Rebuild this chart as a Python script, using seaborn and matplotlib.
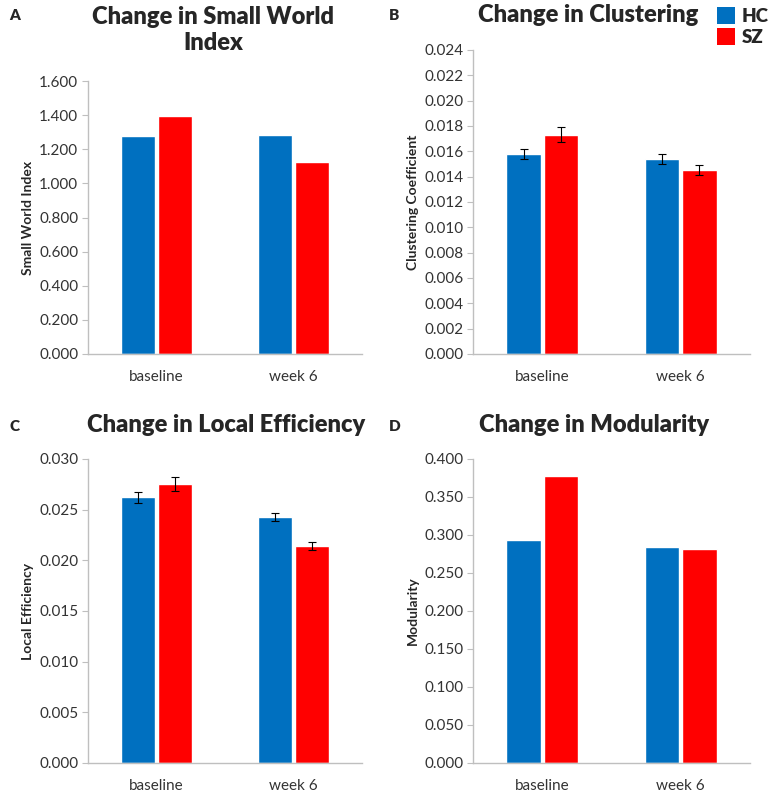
import numpy as np
import pandas as pd
import matplotlib.pyplot as plt
import seaborn as sns
from matplotlib.patches import Patch
from matplotlib.ticker import FormatStrFormatter

sns.set_style('white')
plt.rcParams['font.family'] = ['Lato', 'DejaVu Sans']

timepoints = ['baseline', 'week 6']
groups = ['HC', 'SZ']
colors = {'HC': '#0070C0', 'SZ': '#FF0000'}

# values: (baseline, week 6)
swi_hc = [1.275, 1.285]
swi_sz = [1.395, 1.125]

clust_hc = [0.0158, 0.0154]
clust_sz = [0.0173, 0.0145]
clust_hc_err = [0.0004, 0.0004]
clust_sz_err = [0.0006, 0.0004]

leff_hc = [0.0262, 0.0243]
leff_sz = [0.0275, 0.0214]
leff_hc_err = [0.0005, 0.0004]
leff_sz_err = [0.0007, 0.0004]

mod_hc = [0.294, 0.284]
mod_sz = [0.378, 0.282]


def panel(ax, hc, sz, ylabel, ymax, step, fmt, hc_err=None, sz_err=None):
    df = pd.DataFrame({
        'time': timepoints * 2,
        'group': ['HC'] * 2 + ['SZ'] * 2,
        'value': hc + sz,
    })
    sns.barplot(data=df, x='time', y='value', hue='group', hue_order=groups,
                palette=colors, saturation=1, width=0.54, gap=0.08,
                errorbar=None, legend=False, ax=ax)
    if hc_err is not None:
        # error bars at the centre of each bar
        for cont, errs in zip(ax.containers, [hc_err, sz_err]):
            xs = [b.get_x() + b.get_width() / 2 for b in cont]
            ys = [b.get_height() for b in cont]
            ax.errorbar(xs, ys, yerr=errs, fmt='none', ecolor='black',
                        elinewidth=0.8, capsize=3, capthick=0.8)
    ax.set_xlim(-0.5, 1.5)
    ax.set_ylim(0, ymax)
    ax.set_yticks(np.arange(0, ymax + step / 2, step))
    ax.yaxis.set_major_formatter(FormatStrFormatter(fmt))
    ax.set_xlabel('')
    ax.set_ylabel(ylabel, fontsize=10, fontweight='bold')
    sns.despine(ax=ax)
    for s in ['left', 'bottom']:
        ax.spines[s].set_color('#BFBFBF')
        ax.spines[s].set_linewidth(1)
    ax.tick_params(axis='y', left=True, length=4, color='#BFBFBF',
                   labelsize=11, labelcolor='#333333', pad=3)
    ax.tick_params(axis='x', bottom=False, labelsize=11, labelcolor='#333333', pad=8)


fig = plt.figure(figsize=(7.73, 7.96), dpi=100)
axA = fig.add_axes([0.1138, 0.5553, 0.3545, 0.3429])
axB = fig.add_axes([0.6119, 0.5553, 0.3583, 0.3819])
axC = fig.add_axes([0.1138, 0.0415, 0.3545, 0.3819])
axD = fig.add_axes([0.6119, 0.0415, 0.3583, 0.3819])

panel(axA, swi_hc, swi_sz, 'Small World Index', 1.6, 0.2, '%.3f')
panel(axB, clust_hc, clust_sz, 'Clustering Coefficient', 0.024, 0.002, '%.3f',
      clust_hc_err, clust_sz_err)
panel(axC, leff_hc, leff_sz, 'Local Efficiency', 0.030, 0.005, '%.3f',
      leff_hc_err, leff_sz_err)
panel(axD, mod_hc, mod_sz, 'Modularity', 0.400, 0.050, '%.3f')

W, H = 773, 796
def ft(x, y, s, **kw):
    fig.text(x / W, 1 - y / H, s, **kw)

tkw = dict(ha='center', va='center', fontsize=17, fontweight='heavy')
ft(213, 30, 'Change in Small World\nIndex', linespacing=1.2, **tkw)
ft(588, 15, 'Change in Clustering', **tkw)
ft(226, 425, 'Change in Local Efficiency', **tkw)
ft(594, 425, 'Change in Modularity', **tkw)

lkw = dict(ha='left', va='center', fontsize=11, fontweight='heavy')
ft(9, 16, 'A', **lkw)
ft(389, 16, 'B', **lkw)
ft(9, 426, 'C', **lkw)
ft(389, 426, 'D', **lkw)

handles = [Patch(facecolor=colors[g], edgecolor='none', label=g) for g in groups]
leg = fig.legend(handles=handles, loc='upper right', bbox_to_anchor=(1.008, 1.004),
                 frameon=False, prop={'weight': 'heavy', 'size': 13.5},
                 handlelength=1.0, handleheight=1.0, handletextpad=0.35,
                 labelspacing=0.15, borderaxespad=0.15)

fig.savefig('out.png', dpi=100, facecolor='white')
